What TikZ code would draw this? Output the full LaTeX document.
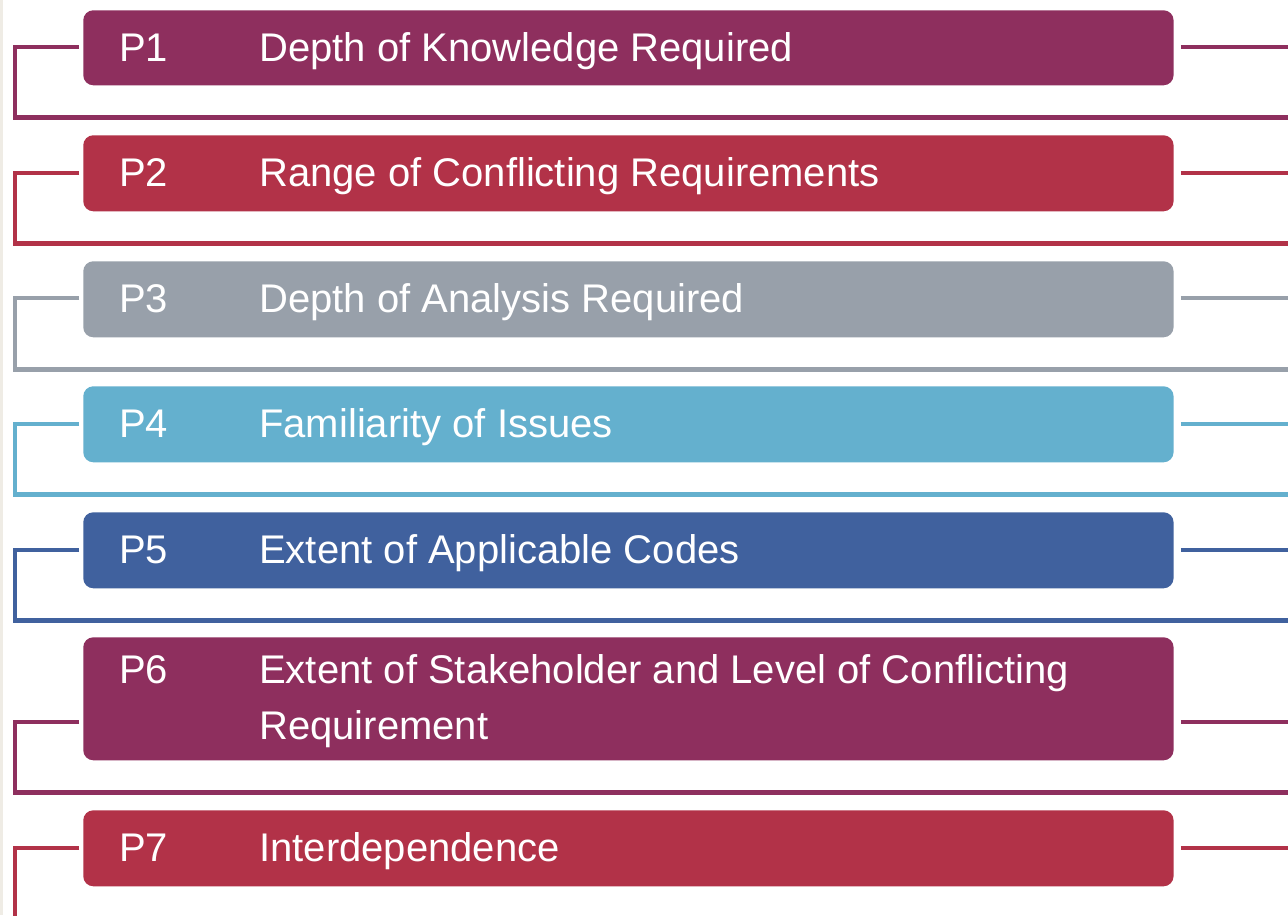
\documentclass[tikz,border=0pt]{standalone}
\usepackage{fontspec}
\setmainfont{Liberation Sans}
\usetikzlibrary{calc}
\definecolor{pwine}{HTML}{8E2F5E}
\definecolor{pred}{HTML}{B23248}
\definecolor{pgrey}{HTML}{98A0AA}
\definecolor{psky}{HTML}{64B0CE}
\definecolor{pblue}{HTML}{40619E}
\definecolor{paper}{HTML}{EFECE5}
\tikzset{
    pbox/.style={fill=#1, rounded corners=0.25cm, inner sep=0pt, anchor=north west, minimum width=27.25cm},
    wire/.style={draw=#1, line width=3.2pt},
    ptag/.style={text=white, anchor=base west, inner sep=0pt, font=\fontsize{28.45}{40.5}\selectfont},
}

\begin{document}
\begin{tikzpicture}[x=0.025cm, y=-0.025cm]
    \clip (0,0) rectangle (1288,915);
    \fill[white] (0,0) rectangle (1288,915);
    \fill[paper] (0,0) rectangle (3,915);
    % one row per attribute: number/top/height/stub/baseline/colour/text
    \foreach \n/\t/\h/\s/\b/\c/\txt in {
        1/10/75/37/51/pwine/{Depth of Knowledge Required},
        2/135/76/38/51/pred/{Range of Conflicting Requirements},
        3/261/76/37/51/pgrey/{Depth of Analysis Required},
        4/386/76/38/51/psky/{Familiarity of Issues},
        5/512/76/38/51/pblue/{Extent of Applicable Codes},
        6/637/123/85/46/pwine/{Extent of Stakeholder and Level of Conflicting\\Requirement},
        7/810/76/38/51/pred/{Interdependence}}
    {
        \node[pbox=\c, minimum height=\h*0.025cm] (b\n) at (83,\t) {};
        \node[ptag] (t\n) at ($(b\n.north west)+(36,\b)$) {P\n};
        % tabular[t] keeps the baseline on the first line
        \node[ptag] (d\n) at ($(b\n.north west)+(176,\b)$)
            {\begin{tabular}[t]{@{}l@{}}\txt\end{tabular}};
        \draw[wire=\c] ($(b\n.north west)+(-4,\s)$) -| ($(b\n.south west)+(-68,32)$) -- +(1300,0);
        \draw[wire=\c] ($(b\n.north east)+(7,\s)$) -- +(200,0);
    }
\end{tikzpicture}
\end{document}
